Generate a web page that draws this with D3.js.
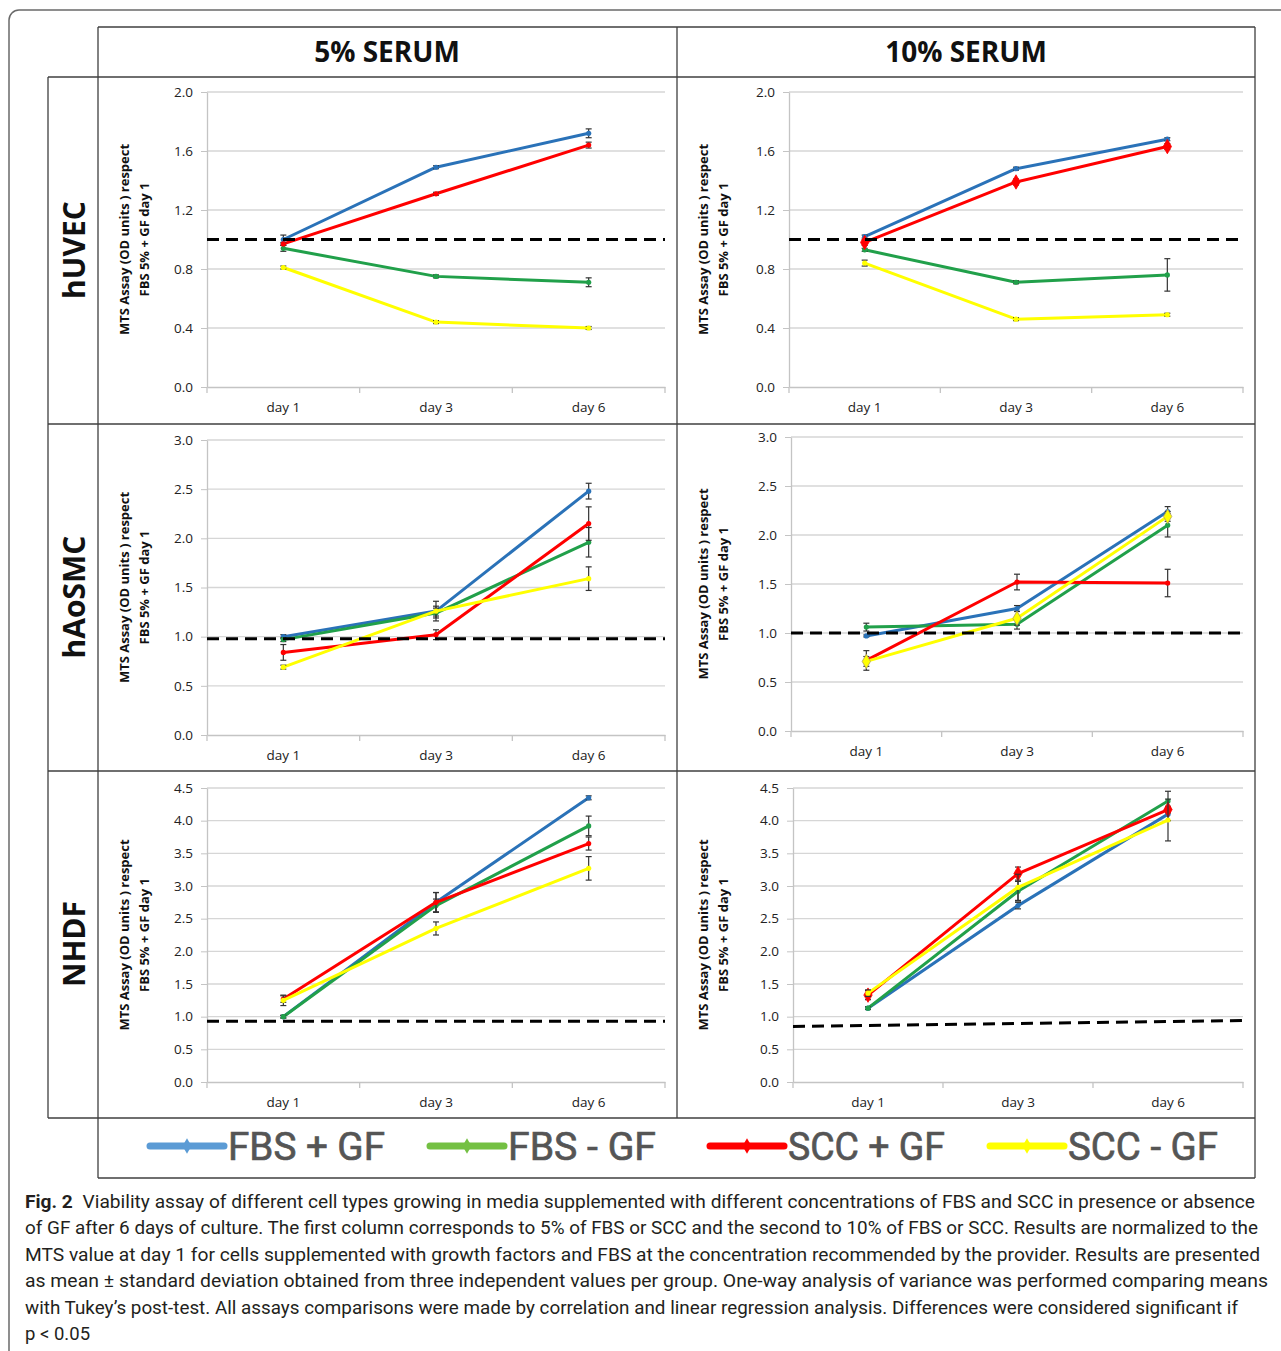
<!DOCTYPE html>
<html>
<head>
<meta charset="utf-8">
<script src="https://cdn.jsdelivr.net/npm/d3@7"></script>
<style>
  body { margin: 0; background: #fff; }
  svg { display: block; }
</style>
</head>
<body>
<svg id="fig" width="1281" height="1351"></svg>
<script>
// categories and labels
const days = ["day 1", "day 3", "day 6"];
const seriesNames = ["FBS + GF", "FBS - GF", "SCC + GF", "SCC - GF"];
const columnTitles = ["5% SERUM", "10% SERUM"];
const rowTitles = ["hUVEC", "hAoSMC", "NHDF"];

// values per panel, one row per series (FBS+GF, FBS-GF, SCC+GF, SCC-GF), columns day 1/3/6
const huvec5 = [[1.00, 1.49, 1.72], [0.94, 0.75, 0.71], [0.97, 1.31, 1.64], [0.81, 0.44, 0.40]];
const huvec5Err = [[0.03, 0.01, 0.03], [0.02, 0.01, 0.03], [0.01, 0.01, 0.02], [0.01, 0.01, 0.01]];
const huvec10 = [[1.02, 1.48, 1.68], [0.93, 0.71, 0.76], [0.98, 1.39, 1.63], [0.84, 0.46, 0.49]];
const huvec10Err = [[0.01, 0.01, 0.01], [0.01, 0.01, 0.11], [0.02, 0.02, 0.02], [0.02, 0.01, 0.01]];
const haosmc5 = [[1.00, 1.26, 2.48], [0.97, 1.24, 1.96], [0.84, 1.02, 2.15], [0.69, 1.26, 1.59]];
const haosmc5Err = [[0.02, 0.05, 0.08], [0.02, 0.05, 0.15], [0.08, 0.05, 0.17], [0.02, 0.10, 0.12]];
const haosmc10 = [[0.97, 1.25, 2.24], [1.06, 1.09, 2.10], [0.72, 1.52, 1.51], [0.71, 1.15, 2.19]];
const haosmc10Err = [[0.01, 0.03, 0.05], [0.04, 0.05, 0.12], [0.10, 0.08, 0.14], [0.05, 0.07, 0.05]];
const nhdf5 = [[1.00, 2.75, 4.35], [1.00, 2.70, 3.92], [1.27, 2.75, 3.65], [1.25, 2.35, 3.27]];
const nhdf5Err = [[0.02, 0.15, 0.03], [0.02, 0.10, 0.15], [0.05, 0.15, 0.10], [0.08, 0.10, 0.18]];
const nhdf10 = [[1.13, 2.70, 4.10], [1.13, 2.92, 4.30], [1.33, 3.19, 4.17], [1.36, 2.98, 4.01]];
const nhdf10Err = [[0.02, 0.05, 0.10], [0.02, 0.15, 0.15], [0.07, 0.10, 0.05], [0.05, 0.20, 0.32]];

// dashed reference line (value at left edge, value at right edge)
const refHuvec5 = [1.0, 1.0];
const refHuvec10 = [1.0, 1.0];
const refHaosmc5 = [0.98, 0.98];
const refHaosmc10 = [1.0, 1.0];
const refNhdf5 = [0.93, 0.93];
const refNhdf10 = [0.85, 0.94];

// y tick labels
const ticksHuvec = [0, 0.4, 0.8, 1.2, 1.6, 2.0];
const ticksHaosmc = [0, 0.5, 1.0, 1.5, 2.0, 2.5, 3.0];
const ticksNhdf = [0, 0.5, 1.0, 1.5, 2.0, 2.5, 3.0, 3.5, 4.0, 4.5];

const yTitle1 = "MTS Assay (OD units ) respect";
const yTitle2 = "FBS 5% + GF day 1";

const captionBold = "Fig. 2";
const captionLines = [
  "Viability assay of different cell types growing in media supplemented with different concentrations of FBS and SCC in presence or absence",
  "of GF after 6 days of culture. The first column corresponds to 5% of FBS or SCC and the second to 10% of FBS or SCC. Results are normalized to the",
  "MTS value at day 1 for cells supplemented with growth factors and FBS at the concentration recommended by the provider. Results are presented",
  "as mean \u00b1 standard deviation obtained from three independent values per group. One-way analysis of variance was performed comparing means",
  "with Tukey\u2019s post-test. All assays comparisons were made by correlation and linear regression analysis. Differences were considered significant if",
  "p < 0.05"
];

// styles
const lineColors = ["#2a72b8", "#21a04a", "#ff0000", "#ffff00"];
const legendColors = ["#5b9bd5", "#74c043", "#ff0000", "#ffff00"];
const font = "'Open Sans', 'DejaVu Sans', sans-serif";

// layout of the grid table
const colX = [98, 677];
const rowY = [77, 424, 771];

const panels = [
  { col: 0, row: 0, vals: huvec5, errs: huvec5Err, ref: refHuvec5, ticks: ticksHuvec, L: 109, R: 567, T: 15, B: 310, diamond: -1 },
  { col: 1, row: 0, vals: huvec10, errs: huvec10Err, ref: refHuvec10, ticks: ticksHuvec, L: 112, R: 566, T: 15, B: 310, diamond: 2 },
  { col: 0, row: 1, vals: haosmc5, errs: haosmc5Err, ref: refHaosmc5, ticks: ticksHaosmc, L: 109, R: 567, T: 16, B: 311, diamond: -1 },
  { col: 1, row: 1, vals: haosmc10, errs: haosmc10Err, ref: refHaosmc10, ticks: ticksHaosmc, L: 114, R: 566, T: 13, B: 307, diamond: 3 },
  { col: 0, row: 2, vals: nhdf5, errs: nhdf5Err, ref: refNhdf5, ticks: ticksNhdf, L: 109, R: 567, T: 17, B: 311, diamond: -1 },
  { col: 1, row: 2, vals: nhdf10, errs: nhdf10Err, ref: refNhdf10, ticks: ticksNhdf, L: 116, R: 566, T: 17, B: 311, diamond: 2 }
];

const svg = d3.select("#fig");

// outer rounded frame (runs off the right/bottom edge)
svg.append("rect")
  .attr("x", 9).attr("y", 10).attr("width", 1320).attr("height", 1400).attr("rx", 10)
  .attr("fill", "none").attr("stroke", "#6a6a6a").attr("stroke-width", 1.5);

// table lines
const tbl = svg.append("g").attr("stroke", "#3f3f3f").attr("stroke-width", 1.3);
const hLines = [[98, 1255, 27], [48, 1255, 77], [48, 1255, 424], [48, 1255, 771], [48, 1255, 1118], [98, 1255, 1178]];
const vLines = [[48, 77, 1118], [98, 27, 1178], [677, 27, 1118], [1255, 27, 1178]];
hLines.forEach(h => tbl.append("line").attr("x1", h[0]).attr("x2", h[1]).attr("y1", h[2]).attr("y2", h[2]));
vLines.forEach(v => tbl.append("line").attr("x1", v[0]).attr("x2", v[0]).attr("y1", v[1]).attr("y2", v[2]));

// column headers
columnTitles.forEach((t, i) => {
  svg.append("text")
    .attr("x", colX[i] + 289).attr("y", 62)
    .attr("text-anchor", "middle")
    .style("font-family", font).style("font-weight", "700").style("font-size", "28px")
    .attr("fill", "#111")
    .text(t);
});

// row headers
rowTitles.forEach((t, i) => {
  svg.append("text")
    .attr("transform", `translate(73,${rowY[i] + 173}) rotate(-90)`)
    .attr("text-anchor", "middle").attr("dominant-baseline", "central")
    .style("font-family", font).style("font-weight", "700").style("font-size", "30px")
    .attr("fill", "#111")
    .text(t);
});

panels.forEach(p => {
  const g = svg.append("g").attr("transform", `translate(${colX[p.col]},${rowY[p.row]})`);
  const x = d3.scaleBand().domain(days).range([p.L, p.R]);
  const y = d3.scaleLinear().domain([0, d3.max(p.ticks)]).range([p.B, p.T]);
  const cx = d => x(d) + x.bandwidth() / 2;

  // gridlines
  g.append("g").selectAll("line").data(p.ticks.filter(t => t > 0)).join("line")
    .attr("x1", p.L).attr("x2", p.R)
    .attr("y1", d => y(d)).attr("y2", d => y(d))
    .attr("stroke", "#d6d6d6").attr("stroke-width", 1.3);

  // y axis
  const ya = g.append("g").attr("transform", `translate(${p.L},0)`)
    .call(d3.axisLeft(y).tickValues(p.ticks).tickFormat(d3.format(".1f")).tickSize(6).tickSizeOuter(0).tickPadding(8));
  ya.select(".domain").attr("stroke", "#c4c4c4").attr("stroke-width", 1.3);
  ya.selectAll(".tick line").attr("stroke", "#c4c4c4");
  ya.selectAll("text").style("font-family", font).style("font-size", "13.5px").attr("fill", "#222");

  // x axis
  const xa = g.append("g").attr("transform", `translate(0,${p.B})`)
    .call(d3.axisBottom(x).tickSize(0).tickPadding(15));
  xa.select(".domain").attr("stroke", "#c4c4c4").attr("stroke-width", 1.3);
  xa.selectAll("text").style("font-family", font).style("font-size", "13.5px").attr("fill", "#222");
  const bounds = days.map(d => x(d)).concat([p.R]);
  g.append("g").selectAll("line").data(bounds).join("line")
    .attr("x1", d => d).attr("x2", d => d).attr("y1", p.B).attr("y2", p.B + 6)
    .attr("stroke", "#c4c4c4").attr("stroke-width", 1.3);

  // y axis title
  const tt = g.append("text")
    .attr("transform", `translate(26,${(p.T + p.B) / 2}) rotate(-90)`)
    .attr("text-anchor", "middle")
    .style("font-family", font).style("font-weight", "700").style("font-size", "13px")
    .attr("fill", "#111");
  tt.append("tspan").attr("x", 0).attr("dy", "0.35em").text(yTitle1);
  tt.append("tspan").attr("x", 0).attr("dy", "1.6em").text(yTitle2);

  const line = d3.line().x((v, i) => cx(days[i])).y(v => y(v));

  p.vals.forEach((vals, s) => {
    const sg = g.append("g");
    sg.append("path").datum(vals)
      .attr("d", line).attr("fill", "none")
      .attr("stroke", lineColors[s]).attr("stroke-width", 3).attr("stroke-linejoin", "round");

    // error bars
    vals.forEach((v, i) => {
      const e = p.errs[s][i];
      const xx = cx(days[i]);
      const eb = sg.append("g").attr("stroke", "#333").attr("stroke-width", 1.2);
      eb.append("line").attr("x1", xx).attr("x2", xx).attr("y1", y(v - e)).attr("y2", y(v + e));
      eb.append("line").attr("x1", xx - 3).attr("x2", xx + 3).attr("y1", y(v - e)).attr("y2", y(v - e));
      eb.append("line").attr("x1", xx - 3).attr("x2", xx + 3).attr("y1", y(v + e)).attr("y2", y(v + e));
    });

    // markers
    if (p.diamond === s) {
      sg.selectAll("path.mk").data(vals).join("path").attr("class", "mk")
        .attr("d", d3.symbol(d3.symbolDiamond, 60)())
        .attr("transform", (v, i) => `translate(${cx(days[i])},${y(v)})`)
        .attr("fill", lineColors[s]).attr("stroke", s === 3 ? "#b0a060" : lineColors[s]).attr("stroke-width", 0.8);
    } else {
      sg.selectAll("circle").data(vals).join("circle")
        .attr("cx", (v, i) => cx(days[i])).attr("cy", v => y(v)).attr("r", 2.6)
        .attr("fill", lineColors[s]);
    }
  });

  // dashed reference line
  g.append("line")
    .attr("x1", p.L).attr("x2", p.R)
    .attr("y1", y(p.ref[0])).attr("y2", y(p.ref[1]))
    .attr("stroke", "#000").attr("stroke-width", 3).attr("stroke-dasharray", "12,7");
});

// legend
const lx = d3.scaleBand().domain(seriesNames).range([150, 1270]);
const lg = svg.append("g");
const textLens = [157, 148, 157, 150];
seriesNames.forEach((n, i) => {
  const x0 = lx(n);
  lg.append("line").attr("x1", x0).attr("x2", x0 + 74).attr("y1", 1146).attr("y2", 1146)
    .attr("stroke", legendColors[i]).attr("stroke-width", 7).attr("stroke-linecap", "round");
  lg.append("path").attr("d", d3.symbol(d3.symbolDiamond, 70)())
    .attr("transform", `translate(${x0 + 37},1146)`).attr("fill", legendColors[i]);
  lg.append("text")
    .attr("x", x0 + 78).attr("y", 1160)
    .attr("textLength", textLens[i]).attr("lengthAdjust", "spacingAndGlyphs")
    .style("font-family", "'Liberation Sans Narrow', 'Roboto', sans-serif").style("font-size", "39px")
    .attr("fill", "#555").attr("stroke", "#555").attr("stroke-width", 0.7)
    .text(n);
});

// caption
const capLens = [1230, 1233, 1235, 1243, 1213];
captionLines.forEach((t, i) => {
  const tx = svg.append("text")
    .attr("x", 25).attr("y", 1208 + i * 26.4)
    .style("font-family", "'Roboto', 'Noto Sans', sans-serif").style("font-size", "18.5px")
    .attr("fill", "#231f20");
  if (i < capLens.length) tx.attr("textLength", capLens[i]).attr("lengthAdjust", "spacingAndGlyphs");
  if (i === 0) {
    tx.append("tspan").style("font-weight", "700").text(captionBold + "\u2002");
  }
  tx.append("tspan").text(t);
});
</script>
</body>
</html>
